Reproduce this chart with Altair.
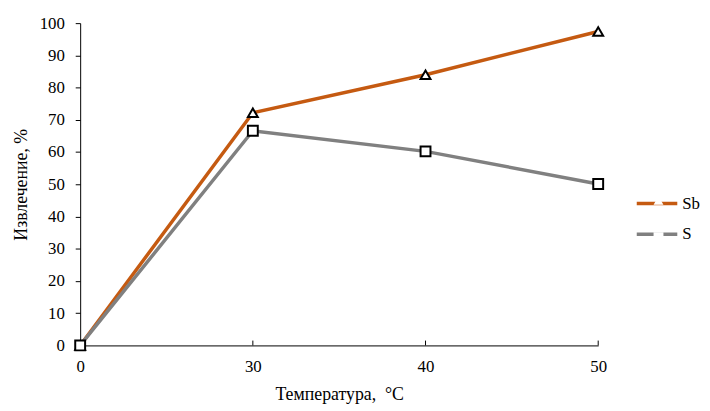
import altair as alt
import pandas as pd

temps = ["0", "30", "40", "50"]
sb_values = [0, 72.2, 84.0, 97.4]
s_values = [0, 66.6, 60.2, 50.1]
series_names = ["Sb", "S"]
y_ticks = [0, 10, 20, 30, 40, 50, 60, 70, 80, 90, 100]
tick_temps = ["30", "40", "50"]

rows = []
for t, v in zip(temps, sb_values):
    rows.append({"temp": t, "value": v, "series": "Sb", "marker": "Sb"})
for t, v in zip(temps, s_values):
    rows.append({"temp": t, "value": v, "series": "S", "marker": "S"})
df = pd.DataFrame(rows)
ticks_df = pd.DataFrame({"temp": tick_temps, "value": [0] * 3, "value2": [1.5] * 3})

FONT = "Liberation Serif"

x_enc = alt.X(
    "temp:O",
    sort=temps,
    scale=alt.Scale(type="point", padding=0, domain=temps),
    axis=alt.Axis(
        title="Температура,\u00a0\u00a0°C",
        labelAngle=0,
        tickSize=0,
        labelPadding=13,
        titlePadding=12,
    ),
)
y_enc = alt.Y(
    "value:Q",
    scale=alt.Scale(domain=[0, 100], nice=False),
    axis=alt.Axis(
        title="Извлечение, %",
        values=y_ticks,
        labelOverlap=False,
        grid=False,
        tickSize=5,
        labelPadding=11,
        titlePadding=9,
    ),
)

color_scale = alt.Scale(domain=series_names, range=["#C55A11", "#808080"])
shape_scale = alt.Scale(domain=series_names, range=["triangle-up", "square"])

lines = alt.Chart(df).mark_line(strokeWidth=3.5).encode(
    x=x_enc,
    y=y_enc,
    color=alt.Color(
        "series:N",
        scale=color_scale,
        sort=series_names,
        legend=alt.Legend(
            title=None,
            orient="none",
            legendX=561,
            legendY=160,
            symbolType="stroke",
            symbolSize=1681,
            symbolStrokeWidth=3.5,
            labelFont=FONT,
            labelFontSize=17,
            labelColor="black",
            labelOffset=3,
            rowPadding=-5,
            padding=0,
        ),
    ),
)

points = alt.Chart(df).mark_point(
    filled=False, fillOpacity=1, strokeOpacity=1, strokeWidth=2, size=100, opacity=1
).encode(
    x=x_enc,
    y=y_enc,
    stroke=alt.value("black"),
    fill=alt.value("white"),
    strokeWidth=alt.value(2),
    shape=alt.Shape(
        "marker:N",
        scale=shape_scale,
        sort=series_names,
        legend=alt.Legend(
            title=None,
            orient="none",
            legendX=576.5,
            legendY=171,
            symbolSize=100,
            symbolStrokeColor="black",
            symbolFillColor="white",
            symbolStrokeWidth=2,
            symbolOpacity=1,
            labelExpr="''",
            labelFontSize=17,
            labelFont=FONT,
            rowPadding=19,
            padding=0,
        ),
    ),
)

tick_rules = alt.Chart(ticks_df).mark_rule(color="black", strokeWidth=1).encode(
    x=x_enc,
    y=y_enc,
    y2="value2:Q",
)

chart = (
    alt.layer(lines, tick_rules, points)
    .resolve_legend(color="independent", shape="independent")
    .properties(
        width=524,
        height=326,
        background="white",
        autosize=alt.AutoSizeParams(type="none"),
        padding={"left": 73, "top": 13, "right": 105, "bottom": 62},
    )
    .configure_axis(
        labelFont=FONT,
        titleFont=FONT,
        labelFontSize=17,
        titleFontSize=18,
        titleFontWeight="normal",
        labelColor="black",
        titleColor="black",
        domainColor="black",
        tickColor="black",
    )
    .configure_legend(symbolStrokeColor="black", symbolFillColor="white")
    .configure_view(stroke=None)
)

chart.save("out.html", embed_options={"renderer": "svg", "actions": False})
